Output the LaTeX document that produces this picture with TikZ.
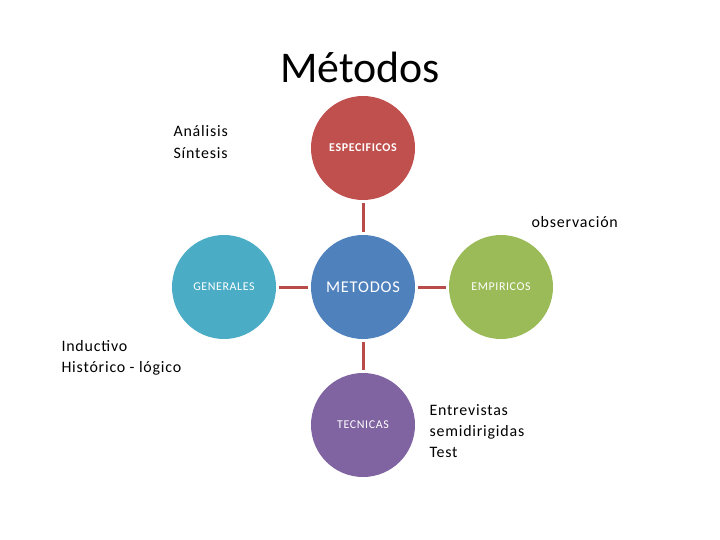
\documentclass[tikz,border=0pt]{standalone}
\usepackage{fontspec}
\setmainfont{Carlito}
\usepackage{tikz}
\definecolor{rotkreis}{RGB}{192, 80, 77}
\definecolor{blaukreis}{RGB}{79, 129, 189}
\definecolor{tuerkiskreis}{RGB}{75, 172, 198}
\definecolor{gruenkreis}{RGB}{155, 187, 89}
\definecolor{violettkreis}{RGB}{128, 100, 162}
\definecolor{linie}{RGB}{185, 75, 75}

\begin{document}
\begin{tikzpicture}[x=1bp, y=-1bp,
		kreis/.style={circle, minimum size=104bp, inner sep=0pt, text=white},
		kreistext/.style={font=\fontsize{12}{14}\selectfont\addfontfeature{LetterSpace=5}},
		conector/.style={draw=linie, line width=3bp, shorten >=3bp, shorten <=3bp},
		notiz/.style={anchor=west, align=left, font=\fontsize{16}{21.5}\selectfont\addfontfeature{LetterSpace=5}}]
		
		\useasboundingbox (0,0) rectangle (720,540);
		
		% --- TITEL ---
		\node (titel) at (360, 67) {\fontsize{44}{50}\selectfont Métodos};
		
		% --- KREISE ---
		\node[kreis, fill=rotkreis, font=\fontsize{12}{14}\selectfont\bfseries\addfontfeature{LetterSpace=5}] (especificos) at (363, 148) {ESPECIFICOS};
		\node[kreis, fill=blaukreis, font=\fontsize{16.5}{18}\selectfont\addfontfeature{LetterSpace=5}] (metodos) at (363, 287) {METODOS};
		\node[kreis, kreistext, fill=tuerkiskreis] (generales) at (224, 287) {GENERALES};
		\node[kreis, kreistext, fill=gruenkreis] (empiricos) at (501, 287) {EMPIRICOS};
		\node[kreis, kreistext, fill=violettkreis] (tecnicas) at (363, 425) {TECNICAS};
		
		% --- VERBINDUNGEN ---
		\draw[conector] (especificos) -- (metodos);
		\draw[conector] (generales) -- (metodos);
		\draw[conector] (metodos) -- (empiricos);
		\draw[conector] (metodos) -- (tecnicas);
		
		% --- NOTIZEN ---
		\node[notiz] (analisis) at (170, 142) {Análisis\\Síntesis};
		\node[notiz] (observacion) at (528, 222) {observación};
		\node[notiz] (inductivo) at (58, 358) {Inductivo\\Histórico - lógico};
		\node[notiz] (entrevistas) at (426, 431) {Entrevistas\\semidirigidas\\Test};
		
	\end{tikzpicture}
\end{document}
